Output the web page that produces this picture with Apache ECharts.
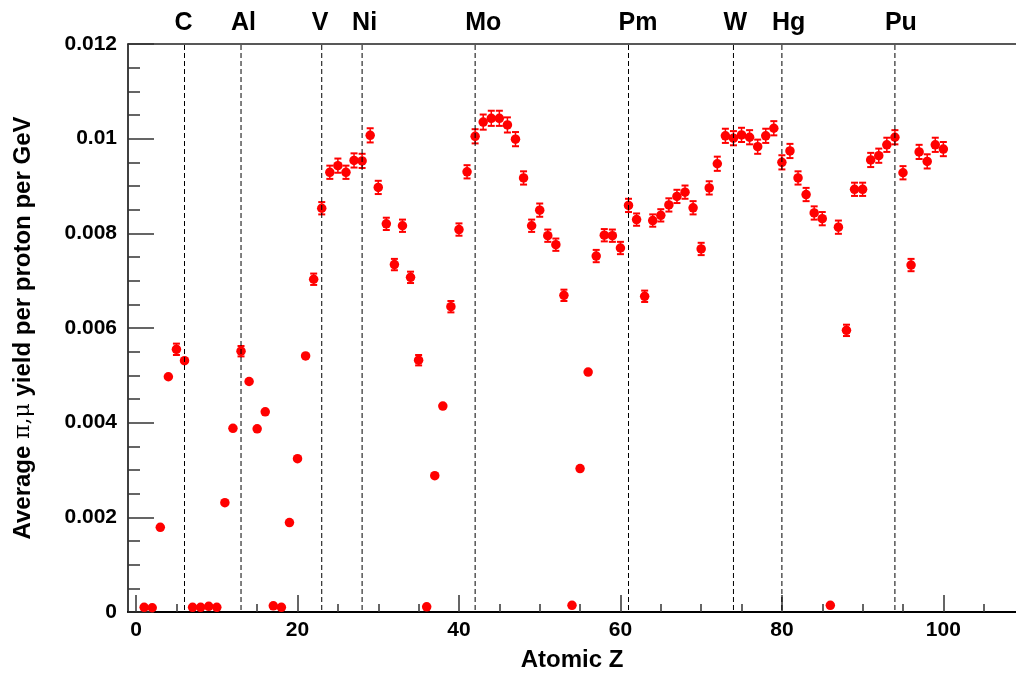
<!DOCTYPE html>
<html><head><meta charset="utf-8">
<script src="https://cdn.jsdelivr.net/npm/echarts@6/dist/echarts.min.js"></script>
<style>html,body{margin:0;padding:0;background:#fff;overflow:hidden}#c{width:1016px;height:677px}</style>
</head><body><div id="c"></div>
<script>
const atomicZ = [1,2,3,4,5,6,7,8,9,10,11,12,13,14,15,16,17,18,19,20,
  21,22,23,24,25,26,27,28,29,30,31,32,33,34,35,36,37,38,39,40,
  41,42,43,44,45,46,47,48,49,50,51,52,53,54,55,56,57,58,59,60,
  61,62,63,64,65,66,67,68,69,70,71,72,73,74,75,76,77,78,79,80,
  81,82,83,84,85,86,87,88,89,90,91,92,93,94,95,96,97,98,99,100];
const yields = [
  0.00010,0.00009,0.00179,0.00497,0.00555,0.00531,0.00010,0.00010,0.00012,0.00010,
  0.00231,0.00388,0.00551,0.00487,0.00387,0.00423,0.00013,0.00010,0.00189,0.00324,
  0.00541,0.00703,0.00853,0.00929,0.00943,0.00929,0.00954,0.00953,0.01007,0.00897,
  0.00820,0.00734,0.00816,0.00707,0.00532,0.00011,0.00288,0.00435,0.00645,0.00808,
  0.00930,0.01005,0.01035,0.01043,0.01043,0.01029,0.00999,0.00917,0.00816,0.00849,
  0.00795,0.00776,0.00669,0.00014,0.00303,0.00507,0.00752,0.00796,0.00795,0.00769,
  0.00859,0.00829,0.00667,0.00827,0.00838,0.00860,0.00878,0.00887,0.00854,0.00767,
  0.00896,0.00947,0.01006,0.01001,0.01008,0.01003,0.00983,0.01006,0.01022,0.00950,
  0.00974,0.00917,0.00882,0.00843,0.00831,0.00014,0.00813,0.00595,0.00893,0.00893,
  0.00955,0.00964,0.00987,0.01003,0.00928,0.00733,0.00972,0.00952,0.00987,0.00978];
const yieldErr = [
  0,0,0,0,0.00012,0,0,0,0,0,
  0,0,0.00011,0,0,0,0,0,0,0,
  0,0.00012,0.00013,0.00014,0.00015,0.00014,0.00015,0.00015,0.00015,0.00014,
  0.00013,0.00012,0.00013,0.00012,0.00011,0,0,0,0.00012,0.00013,
  0.00014,0.00015,0.00016,0.00016,0.00016,0.00016,0.00015,0.00014,0.00013,0.00014,
  0.00013,0.00013,0.00012,0,0,0,0.00013,0.00013,0.00013,0.00013,
  0.00014,0.00013,0.00012,0.00013,0.00013,0.00014,0.00014,0.00014,0.00014,0.00013,
  0.00014,0.00015,0.00015,0.00015,0.00015,0.00015,0.00015,0.00015,0.00015,0.00015,
  0.00015,0.00014,0.00014,0.00014,0.00014,0,0.00014,0.00012,0.00014,0.00014,
  0.00015,0.00015,0.00015,0.00015,0.00014,0.00013,0.00015,0.00015,0.00015,0.00015];
const elementNames = ['C','Al','V','Ni','Mo','Pm','W','Hg','Pu'];
const elementZ = [6,13,23,28,42,61,74,80,94];
const xMajorTicks = [0,20,40,60,80,100];
const xMinorTicks = [5,10,15,25,30,35,45,50,55,65,70,75,85,90,95,105];
const xMin = -1, xMax = 109;
const yMin = 0, yMax = 0.012, yStep = 0.002;

const FONT = '"Liberation Sans", Arial, Helvetica, sans-serif';
const pts = atomicZ.map((z, i) => [z, yields[i]]);
const errPts = atomicZ.map((z, i) => [z, yields[i], yieldErr[i]]);
const elemPts = elementZ.map((z, i) => [z, yMax, i]);

const chart = echarts.init(document.getElementById('c'), null, {renderer: 'canvas', width: 1016, height: 677});
const baseX = {type: 'value', min: xMin, max: xMax, splitLine: {show: false}};
chart.setOption({
  animation: false,
  backgroundColor: '#fff',
  grid: {left: 128, top: 44, width: 888, height: 572, containLabel: false},
  xAxis: [
    Object.assign({}, baseX, {
      position: 'bottom',
      axisLine: {show: true, onZero: false, lineStyle: {color: '#000', width: 2}},
      axisTick: {show: true, inside: true, length: 17, customValues: xMajorTicks, lineStyle: {color: '#333', width: 1.5}},
      axisLabel: {show: true, customValues: xMajorTicks, fontSize: 21, fontWeight: 'bold', fontFamily: FONT, color: '#000', margin: 8},
      name: 'Atomic Z', nameLocation: 'middle', nameGap: 36,
      nameTextStyle: {fontSize: 24, fontWeight: 'bold', fontFamily: FONT, color: '#000'}
    }),
    Object.assign({}, baseX, {
      position: 'bottom',
      axisLine: {show: false},
      axisTick: {show: true, inside: true, length: 8, customValues: xMinorTicks, lineStyle: {color: '#333', width: 1.5}},
      axisLabel: {show: false}
    }),
    Object.assign({}, baseX, {
      position: 'top',
      axisLine: {show: true, onZero: false, lineStyle: {color: '#222', width: 1.5}},
      axisTick: {show: false},
      axisLabel: {show: false}
    })
  ],
  yAxis: {
    type: 'value', min: yMin, max: yMax, interval: yStep,
    axisLine: {show: true, onZero: false, lineStyle: {color: '#000', width: 1.5}},
    axisTick: {show: true, inside: true, length: 26, lineStyle: {color: '#333', width: 1.5}},
    minorTick: {show: true, splitNumber: 4, length: 12, lineStyle: {color: '#333', width: 1.5}},
    splitLine: {show: false},
    axisLabel: {fontSize: 21, fontWeight: 'bold', fontFamily: FONT, color: '#000', margin: 11},
    name: 'Average {s|π,μ} yield per proton per GeV',
    nameLocation: 'middle', nameGap: 93,
    nameTextStyle: {fontSize: 24, fontWeight: 'bold', fontFamily: FONT, color: '#000',
      rich: {s: {fontSize: 22, fontWeight: 'normal', fontFamily: '"DejaVu Serif", "Liberation Serif", serif', color: '#000'}}}
  },
  series: [
    {
      type: 'custom', xAxisIndex: 0, yAxisIndex: 0, data: errPts, z: 2, silent: true,
      encode: {x: 0, y: 1},
      renderItem: function (params, api) {
        const z = api.value(0), y = api.value(1), e = api.value(2);
        if (!e) return null;
        const t = api.coord([z, y + e]), b = api.coord([z, y - e]);
        const s = {stroke: '#ff0000', lineWidth: 1.5};
        const c = {stroke: '#ff0000', lineWidth: 2};
        return {type: 'group', children: [
          {type: 'line', shape: {x1: t[0], y1: t[1], x2: b[0], y2: b[1]}, style: s},
          {type: 'line', shape: {x1: t[0] - 3.5, y1: t[1], x2: t[0] + 3.5, y2: t[1]}, style: c},
          {type: 'line', shape: {x1: b[0] - 3.5, y1: b[1], x2: b[0] + 3.5, y2: b[1]}, style: c}
        ]};
      }
    },
    {
      type: 'scatter', xAxisIndex: 0, yAxisIndex: 0, data: pts, symbol: 'circle', symbolSize: 9.5,
      itemStyle: {color: '#ff0000', opacity: 1}, z: 3, silent: true
    },
    {
      type: 'custom', xAxisIndex: 0, yAxisIndex: 0, data: elemPts, z: 4, silent: true, clip: false,
      encode: {x: 0, y: 1},
      renderItem: function (params, api) {
        const z = api.value(0);
        const top = api.coord([z, yMax]), bot = api.coord([z, yMin]);
        return {type: 'group', children: [
          {type: 'line', shape: {x1: top[0], y1: top[1] + 1, x2: bot[0], y2: bot[1] - 1},
            style: {stroke: '#000', lineWidth: 1, lineDash: [5, 3]}},
          {type: 'text', style: {text: elementNames[params.dataIndex], x: top[0] - 10, y: top[1] - 21,
            fill: '#000', fontSize: 25, fontWeight: 'bold', fontFamily: FONT, align: 'left', verticalAlign: 'middle'}}
        ]};
      }
    }
  ]
});
</script>
</body></html>
